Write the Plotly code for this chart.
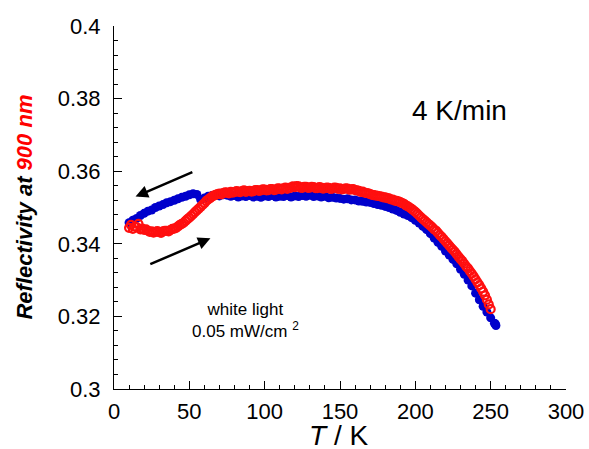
import plotly.graph_objects as go

# Cooling (blue, filled) data
T_cool = [10, 12.5, 15, 17.5, 20, 22.5, 25, 27.5, 30, 32.5, 35, 37.5, 40, 42.5, 45, 47.5,
          50, 52.5, 55, 57.5, 60, 62.5, 65, 67.5, 70, 72.5, 75, 77.5, 80, 82.5, 85, 87.5,
          90, 92.5, 95, 97.5, 100, 102.5, 105, 107.5, 110, 112.5, 115, 117.5, 120, 122.5,
          125, 127.5, 130, 132.5, 135, 137.5, 140, 142.5, 145, 147.5, 150, 152.5, 155,
          157.5, 160, 162.5, 165, 167.5, 170, 172.5, 175, 177.5, 180, 182.5, 185, 187.5,
          190, 192.5, 195, 197.5, 200, 202.5, 205, 207.5, 210, 212.5, 215, 217.5, 220,
          222.5, 225, 227.5, 230, 232.5, 235, 237.5, 240, 242.5, 245, 247.5, 250, 252.5,
          253, 253.5]
R_cool = [0.3458, 0.3465, 0.3470, 0.3478, 0.3484, 0.3490, 0.3493, 0.3500, 0.3504, 0.3508,
          0.3513, 0.3516, 0.3520, 0.3524, 0.3528, 0.3531, 0.3535, 0.3538, 0.3536, 0.3522,
          0.3526, 0.3531, 0.3533, 0.3535, 0.3532, 0.3535, 0.3534, 0.3531, 0.3533, 0.3529,
          0.3532, 0.3530, 0.3533, 0.3529, 0.3531, 0.3528, 0.3532, 0.3530, 0.3533, 0.3529,
          0.3531, 0.3530, 0.3533, 0.3529, 0.3532, 0.3530, 0.3533, 0.3531, 0.3534, 0.3530,
          0.3532, 0.3529, 0.3531, 0.3527, 0.3528, 0.3526, 0.3525, 0.3523, 0.3524, 0.3521,
          0.3521, 0.3518, 0.3517, 0.3515, 0.3514, 0.3511, 0.3508, 0.3506, 0.3503, 0.3500,
          0.3496, 0.3492, 0.3487, 0.3482, 0.3478, 0.3472, 0.3465, 0.3457, 0.3448, 0.3439,
          0.3428, 0.3416, 0.3404, 0.3393, 0.3380, 0.3369, 0.3357, 0.3345, 0.3330, 0.3316,
          0.3300, 0.3284, 0.3264, 0.3246, 0.3228, 0.3212, 0.3196, 0.3181, 0.3180, 0.3175]

# Heating (red, open) data
T_heat = [10, 11.25, 12.5, 13.75, 15, 16.25, 17.5, 18.75, 20, 21.25, 22.5, 23.75, 25, 26.25,
          27.5, 28.75, 30, 31.25, 32.5, 33.75, 35, 36.25, 37.5, 38.75, 40, 41.25, 42.5,
          43.75, 45, 46.25, 47.5, 48.75, 50, 51.25, 52.5, 53.75, 55, 56.25, 57.5, 58.75,
          60, 61.25, 62.5, 63.75, 65, 66.25, 67.5, 68.75, 70, 71.25, 72.5, 73.75, 75,
          76.25, 77.5, 78.75, 80, 81.25, 82.5, 83.75, 85, 86.25, 87.5, 88.75, 90, 91.25,
          92.5, 93.75, 95, 96.25, 97.5, 98.75, 100, 101.25, 102.5, 103.75, 105, 106.25,
          107.5, 108.75, 110, 111.25, 112.5, 113.75, 115, 116.25, 117.5, 118.75, 120,
          121.25, 122.5, 123.75, 125, 126.25, 127.5, 128.75, 130, 131.25, 132.5, 133.75,
          135, 136.25, 137.5, 138.75, 140, 141.25, 142.5, 143.75, 145, 146.25, 147.5,
          148.75, 150, 151.25, 152.5, 153.75, 155, 156.25, 157.5, 158.75, 160, 161.25,
          162.5, 163.75, 165, 166.25, 167.5, 168.75, 170, 171.25, 172.5, 173.75, 175,
          176.25, 177.5, 178.75, 180, 181.25, 182.5, 183.75, 185, 186.25, 187.5, 188.75,
          190, 191.25, 192.5, 193.75, 195, 196.25, 197.5, 198.75, 200, 201.25, 202.5,
          203.75, 205, 206.25, 207.5, 208.75, 210, 211.25, 212.5, 213.75, 215, 216.25,
          217.5, 218.75, 220, 221.25, 222.5, 223.75, 225, 226.25, 227.5, 228.75, 230,
          231.25, 232.5, 233.75, 235, 236.25, 237.5, 238.75, 240, 241.25, 242.5, 243.75,
          245, 246.25, 247.5, 248.75, 250]
R_heat = [0.3444, 0.3452, 0.3441, 0.3447, 0.3446, 0.3455, 0.3440, 0.3442, 0.3438, 0.3440,
          0.3436, 0.3433, 0.3434, 0.3431, 0.3433, 0.3435, 0.3432, 0.3430, 0.3434, 0.3436,
          0.3436, 0.3434, 0.3438, 0.3441, 0.3442, 0.3444, 0.3448, 0.3452, 0.3455, 0.3458,
          0.3463, 0.3468, 0.3472, 0.3477, 0.3482, 0.3487, 0.3492, 0.3497, 0.3502, 0.3507,
          0.3512, 0.3518, 0.3522, 0.3526, 0.3530, 0.3533, 0.3535, 0.3537, 0.3538, 0.3536,
          0.3540, 0.3542, 0.3541, 0.3539, 0.3543, 0.3541, 0.3542, 0.3545, 0.3544, 0.3542,
          0.3545, 0.3547, 0.3543, 0.3545, 0.3546, 0.3544, 0.3545, 0.3548, 0.3548, 0.3546,
          0.3547, 0.3550, 0.3549, 0.3547, 0.3548, 0.3551, 0.3551, 0.3548, 0.3549, 0.3553,
          0.3552, 0.3550, 0.3553, 0.3555, 0.3551, 0.3554, 0.3555, 0.3558, 0.3556, 0.3559,
          0.3558, 0.3555, 0.3554, 0.3557, 0.3557, 0.3554, 0.3555, 0.3557, 0.3556, 0.3553,
          0.3553, 0.3556, 0.3555, 0.3552, 0.3553, 0.3555, 0.3554, 0.3551, 0.3552, 0.3555,
          0.3554, 0.3551, 0.3553, 0.3550, 0.3551, 0.3553, 0.3552, 0.3549, 0.3550, 0.3551,
          0.3548, 0.3547, 0.3546, 0.3543, 0.3544, 0.3541, 0.3540, 0.3539, 0.3537, 0.3535,
          0.3534, 0.3533, 0.3532, 0.3531, 0.3530, 0.3528, 0.3528, 0.3526, 0.3525, 0.3522,
          0.3522, 0.3519, 0.3518, 0.3517, 0.3515, 0.3512, 0.3510, 0.3506, 0.3503, 0.3500,
          0.3496, 0.3492, 0.3488, 0.3483, 0.3478, 0.3473, 0.3468, 0.3464, 0.3459, 0.3454,
          0.3450, 0.3445, 0.3440, 0.3436, 0.3430, 0.3424, 0.3419, 0.3413, 0.3407, 0.3401,
          0.3395, 0.3389, 0.3383, 0.3378, 0.3371, 0.3364, 0.3358, 0.3352, 0.3345, 0.3338,
          0.3332, 0.3325, 0.3318, 0.3310, 0.3302, 0.3294, 0.3286, 0.3277, 0.3268, 0.3258,
          0.3246, 0.3233, 0.3220]

x_ticks = [0, 50, 100, 150, 200, 250, 300]
x_labels = ["0", "50", "100", "150", "200", "250", "300"]
y_ticks = [0.30, 0.32, 0.34, 0.36, 0.38, 0.40]
y_labels = ["0.3", "0.32", "0.34", "0.36", "0.38", "0.4"]

# arrows: (tail T, tail R, head T, head R)
arrow_cool = [53, 0.3599, 14.3, 0.3530]
arrow_heat = [23.1, 0.3342, 64, 0.3415]

FONT = "Liberation Sans, Arial, Helvetica, sans-serif"

fig = go.Figure()
fig.add_trace(go.Scatter(x=T_cool, y=R_cool, mode="markers",
                         marker=dict(symbol="circle", size=9, color="#0000CC",
                                     line=dict(width=0)),
                         showlegend=False, cliponaxis=False))
fig.add_trace(go.Scatter(x=T_heat, y=R_heat, mode="markers",
                         marker=dict(symbol="circle-open", size=8, color="#FF0F0F",
                                     line=dict(width=2.2)),
                         showlegend=False, cliponaxis=False))

axis_common = dict(showgrid=False, zeroline=False, showline=True, linecolor="black",
                   linewidth=1, ticks="inside", tickcolor="black", tickwidth=1,
                   ticklen=8, mirror=False, automargin=False,
                   tickfont=dict(family=FONT, size=22, color="black"))

fig.update_xaxes(range=[0, 300], tickvals=x_ticks, ticktext=x_labels,
                 minor=dict(dtick=10, tick0=0, ticks="inside", ticklen=4,
                            tickcolor="black", tickwidth=1),
                 ticklabelstandoff=3, **axis_common)
fig.update_yaxes(range=[0.3, 0.4], tickvals=y_ticks, ticktext=y_labels,
                 minor=dict(dtick=0.004, tick0=0.3, ticks="inside", ticklen=4,
                            tickcolor="black", tickwidth=1),
                 ticklabelstandoff=8, **axis_common)

annotations = [
    dict(x=arrow_cool[2], y=arrow_cool[3], ax=arrow_cool[0], ay=arrow_cool[1],
         xref="x", yref="y", axref="x", ayref="y", showarrow=True, text="",
         arrowhead=2, arrowsize=1, arrowwidth=2.5, arrowcolor="black"),
    dict(x=arrow_heat[2], y=arrow_heat[3], ax=arrow_heat[0], ay=arrow_heat[1],
         xref="x", yref="y", axref="x", ayref="y", showarrow=True, text="",
         arrowhead=2, arrowsize=1, arrowwidth=2.5, arrowcolor="black"),
    dict(x=229.3, y=0.3766, xref="x", yref="y", showarrow=False, text="4 K/min",
         font=dict(family=FONT, size=28, color="black"), xanchor="center", yanchor="middle"),
    dict(x=87.3, y=0.3190, xref="x", yref="y", showarrow=False,
         text="white light<br>0.05 mW/cm <sup>2</sup>",
         font=dict(family=FONT, size=17, color="black"), xanchor="center", yanchor="middle",
         align="center"),
    dict(x=-0.199, y=0.5, xref="paper", yref="paper", showarrow=False, textangle=-90,
         text="<b><i>Reflectivity at <span style='color:#FF0000'>900 nm</span></i></b>",
         font=dict(family=FONT, size=22, color="black"), xanchor="center", yanchor="middle"),
    dict(x=0.497, y=-0.127, xref="paper", yref="paper", showarrow=False,
         text="<i>T</i> / K", font=dict(family=FONT, size=28, color="black"),
         xanchor="center", yanchor="middle"),
]

fig.update_layout(width=589, height=449, margin=dict(l=114, r=23, t=26, b=60),
                  plot_bgcolor="white", paper_bgcolor="white",
                  annotations=annotations, font=dict(family=FONT))

fig.write_html("out.html")
